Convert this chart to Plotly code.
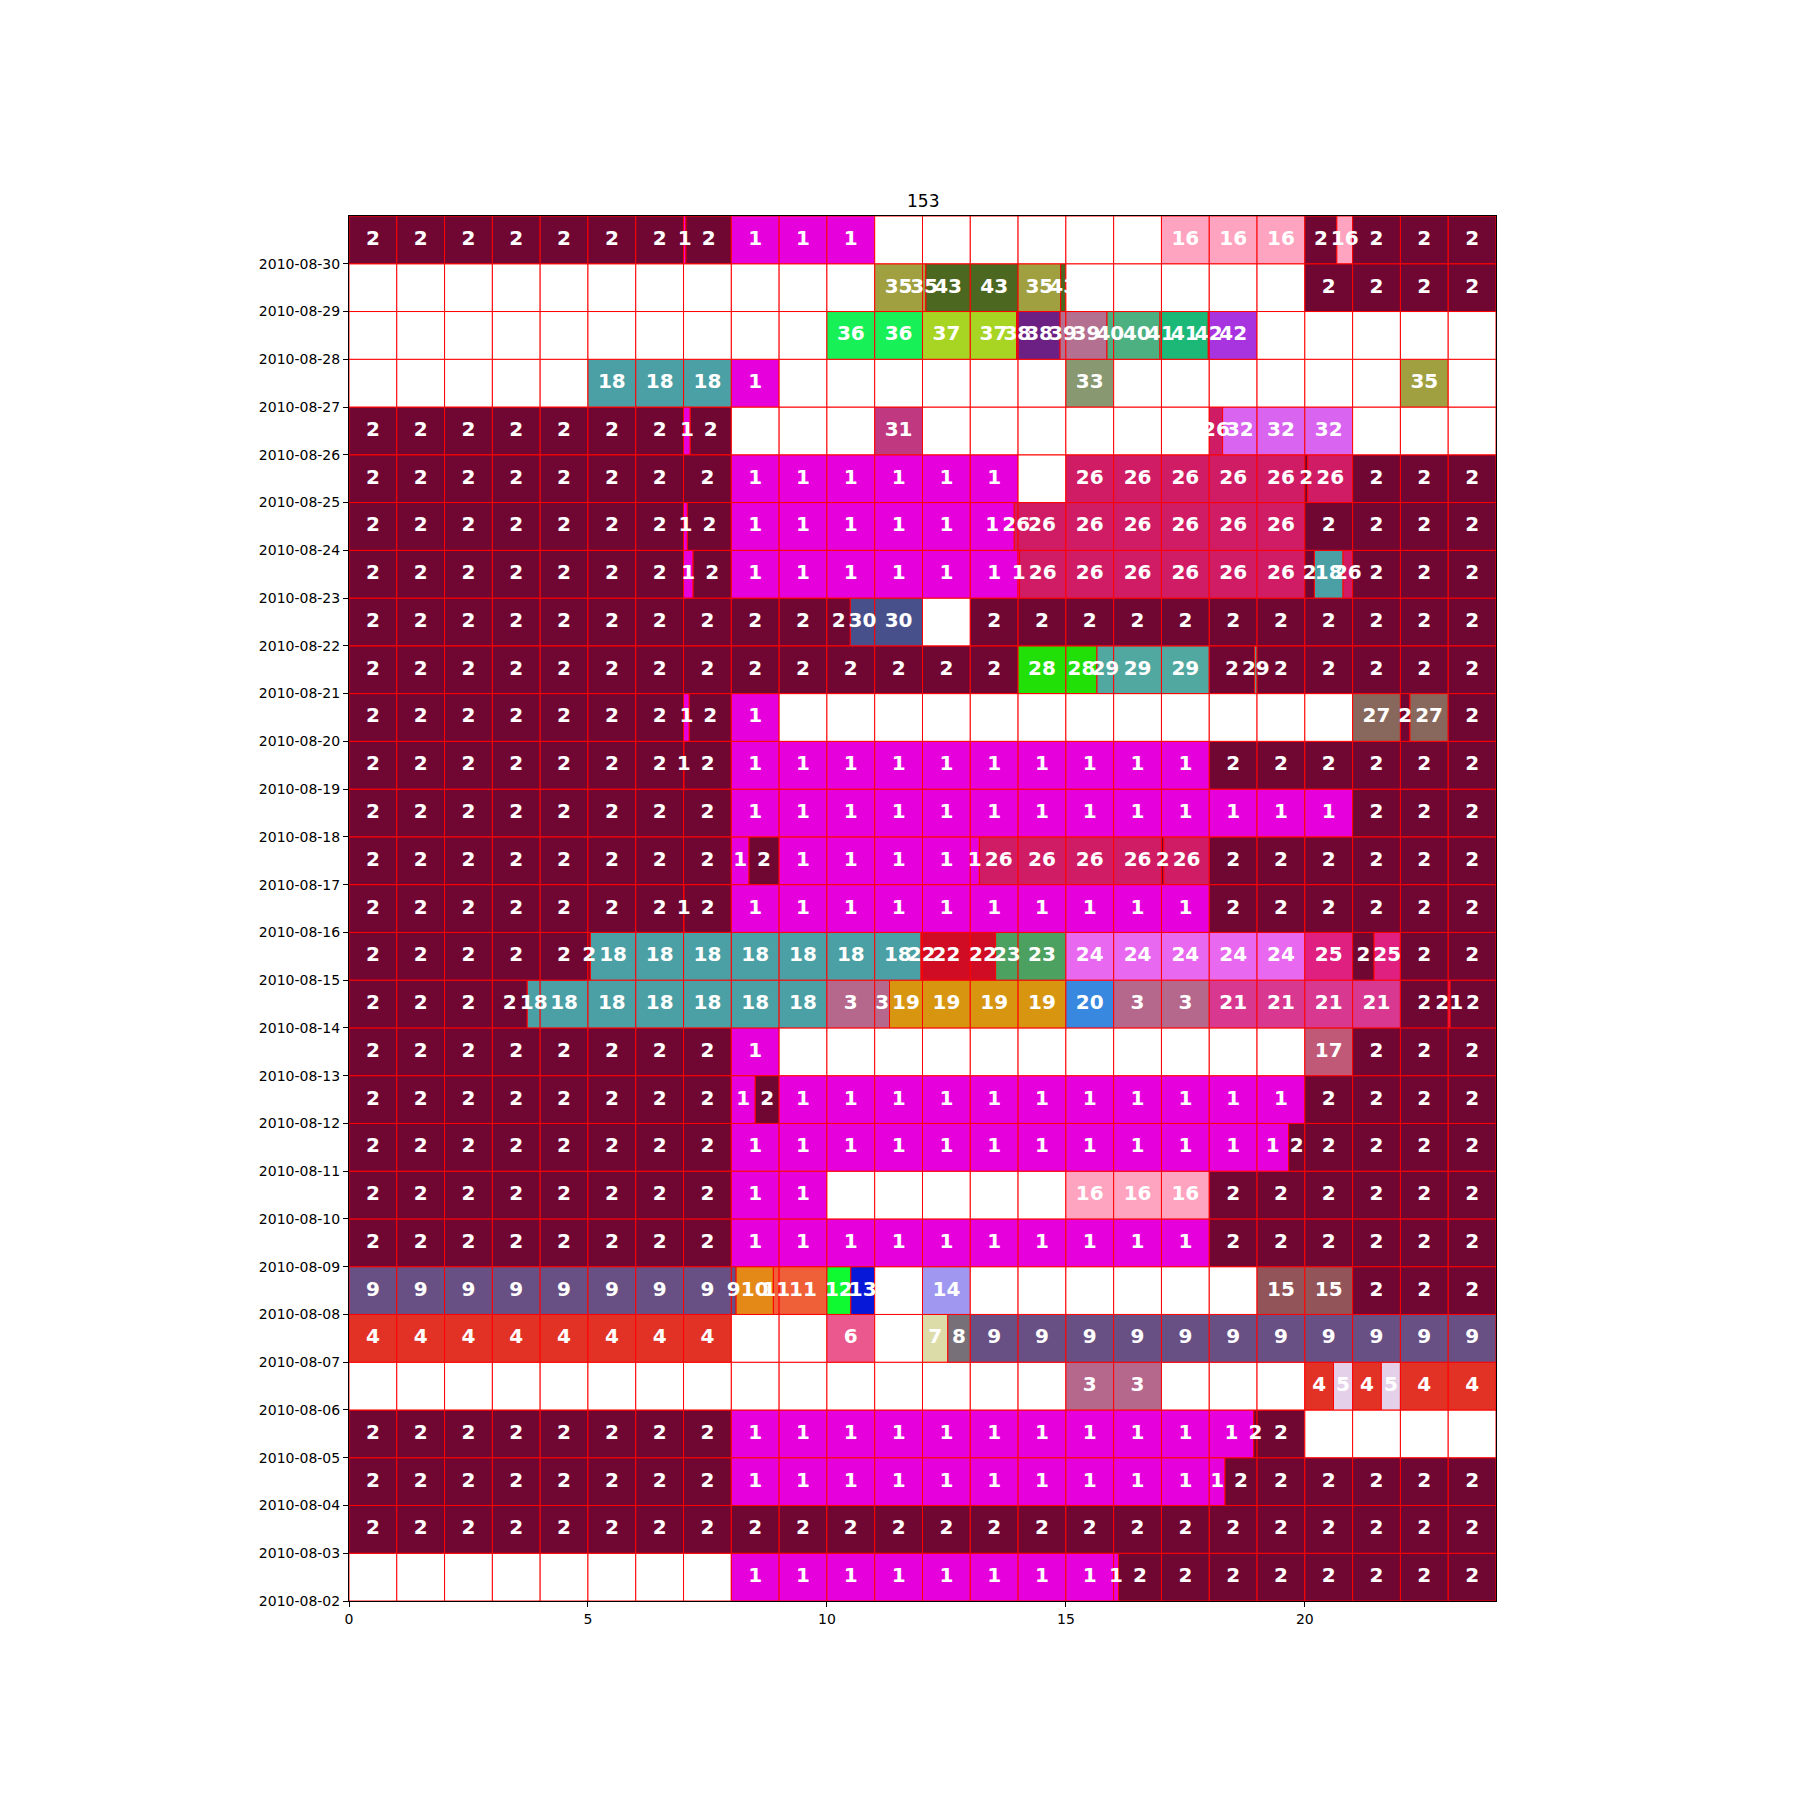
import math
import plotly.graph_objects as go

# Day rows (bottom to top) and activity segments: (start hour, end hour, activity id; 0 = empty)
dates = ["2010-08-%02d" % d for d in range(2, 31)]

aug02 = [(0, 8, 0), (8, 16.1, 1), (16.1, 24, 2)]
aug03 = [(0, 24, 2)]
aug04 = [(0, 8, 2), (8, 18.33, 1), (18.33, 24, 2)]
aug05 = [(0, 8, 2), (8, 18.93, 1), (18.93, 20, 2), (20, 24, 0)]
aug06 = [(0, 15, 0), (15, 17, 3), (17, 20, 0), (20, 20.6, 4), (20.6, 21, 5), (21, 21.6, 4), (21.6, 22, 5), (22, 24, 4)]
aug07 = [(0, 8, 4), (8, 10, 0), (10, 11, 6), (11, 12, 0), (12, 12.53, 7), (12.53, 13, 8), (13, 24, 9)]
aug08 = [(0, 8.1, 9), (8.1, 8.88, 10), (8.88, 10, 11), (10, 10.5, 12), (10.5, 11, 13), (11, 12, 0), (12, 13, 14), (13, 19, 0), (19, 21, 15), (21, 24, 2)]
aug09 = [(0, 8, 2), (8, 18, 1), (18, 24, 2)]
aug10 = [(0, 8, 2), (8, 10, 1), (10, 15, 0), (15, 18, 16), (18, 24, 2)]
aug11 = [(0, 8, 2), (8, 19.66, 1), (19.66, 24, 2)]
aug12 = [(0, 8, 2), (8, 8.5, 1), (8.5, 9, 2), (9, 20, 1), (20, 24, 2)]
aug13 = [(0, 8, 2), (8, 9, 1), (9, 20, 0), (20, 21, 17), (21, 24, 2)]
aug14 = [(0, 3.73, 2), (3.73, 10, 18), (10, 11.31, 3), (11.31, 15, 19), (15, 16, 20), (16, 18, 3), (18, 22, 21), (22, 23, 2), (23, 23.04, 21), (23.04, 24, 2)]
aug15 = [(0, 5.05, 2), (5.05, 11.97, 18), (11.97, 13.53, 22), (13.53, 15, 23), (15, 20, 24), (20, 21, 25), (21, 21.45, 2), (21.45, 22, 25), (22, 24, 2)]
aug16 = [(0, 7, 2), (7, 7.01, 1), (7.01, 8, 2), (8, 18, 1), (18, 24, 2)]
aug17 = [(0, 8, 2), (8, 8.37, 1), (8.37, 9, 2), (9, 13.19, 1), (13.19, 17, 26), (17, 17.05, 2), (17.05, 18, 26), (18, 24, 2)]
aug18 = [(0, 8, 2), (8, 21, 1), (21, 24, 2)]
aug19 = [(0, 7, 2), (7, 7.01, 1), (7.01, 8, 2), (8, 18, 1), (18, 24, 2)]
aug20 = [(0, 7, 2), (7, 7.12, 1), (7.12, 8, 2), (8, 9, 1), (9, 21, 0), (21, 22, 27), (22, 22.2, 2), (22.2, 23, 27), (23, 24, 2)]
aug21 = [(0, 14, 2), (14, 15.65, 28), (15.65, 18, 29), (18, 18.95, 2), (18.95, 19, 29), (19, 24, 2)]
aug22 = [(0, 10.49, 2), (10.49, 12, 30), (12, 13, 0), (13, 24, 2)]
aug23 = [(0, 7, 2), (7, 7.2, 1), (7.2, 8, 2), (8, 14.03, 1), (14.03, 20, 26), (20, 20.2, 2), (20.2, 20.8, 18), (20.8, 21, 26), (21, 24, 2)]
aug24 = [(0, 7, 2), (7, 7.08, 1), (7.08, 8, 2), (8, 13.92, 1), (13.92, 20, 26), (20, 24, 2)]
aug25 = [(0, 8, 2), (8, 14, 1), (14, 15, 0), (15, 20, 26), (20, 20.06, 2), (20.06, 21, 26), (21, 24, 2)]
aug26 = [(0, 7, 2), (7, 7.14, 1), (7.14, 8, 2), (8, 11, 0), (11, 12, 31), (12, 18, 0), (18, 18.28, 26), (18.28, 21, 32), (21, 24, 0)]
aug27 = [(0, 5, 0), (5, 8, 18), (8, 9, 1), (9, 15, 0), (15, 16, 33), (16, 22, 0), (22, 23, 35), (23, 24, 0)]
aug28 = [(0, 10, 0), (10, 12, 36), (12, 13.97, 37), (13.97, 14.88, 38), (14.88, 15.86, 39), (15.86, 16.97, 40), (16.97, 17.98, 41), (17.98, 19, 42), (19, 24, 0)]
aug29 = [(0, 11, 0), (11, 12.07, 35), (12.07, 14, 43), (14, 14.89, 35), (14.89, 15, 43), (15, 20, 0), (20, 24, 2)]
aug30 = [(0, 7, 2), (7, 7.05, 1), (7.05, 8, 2), (8, 11, 1), (11, 17, 0), (17, 20, 16), (20, 20.67, 2), (20.67, 21, 16), (21, 24, 2)]

day_segments = [aug02, aug03, aug04, aug05, aug06, aug07, aug08, aug09, aug10, aug11,
                aug12, aug13, aug14, aug15, aug16, aug17, aug18, aug19, aug20, aug21,
                aug22, aug23, aug24, aug25, aug26, aug27, aug28, aug29, aug30]

activity_colors = {
    0: "#ffffff", 1: "#e600dc", 2: "#700632", 3: "#b5688c", 4: "#e23226", 5: "#e4d0e8",
    6: "#ea588e", 7: "#dcdca8", 8: "#787078", 9: "#685084", 10: "#e48818", 11: "#f06038",
    12: "#10fa32", 13: "#0818d8", 14: "#a098f0", 15: "#925458", 16: "#ffa4c0", 17: "#c05878",
    18: "#4aa0a4", 19: "#d89610", 20: "#3888e0", 21: "#d83890", 22: "#d00c24", 23: "#4ca060",
    24: "#e868f0", 25: "#e02080", 26: "#d01c64", 27: "#88685c", 28: "#20e008", 29: "#50a8a0",
    30: "#48508c", 31: "#c03880", 32: "#d864f0", 33: "#889870", 35: "#a0a040", 36: "#18f058",
    37: "#a8d424", 38: "#6c2084", 39: "#b47090", 40: "#4cb080", 41: "#1cb878", 42: "#a834e0",
    43: "#4c6820",
}

# split segments at hour boundaries -> cells
bar_y, bar_base, bar_len, bar_col = [], [], [], []
txt_x, txt_y, txt_s = [], [], []
for i, segs in enumerate(day_segments):
    for (s, e, a) in segs:
        cur = s
        while e - cur > 1e-9:
            nxt = min(e, math.floor(cur + 1e-9) + 1)
            bar_y.append(i + 0.5)
            bar_base.append(cur)
            bar_len.append(nxt - cur)
            bar_col.append(activity_colors[a])
            if a != 0:
                txt_x.append((cur + nxt) / 2)
                txt_y.append(i + 0.5)
                txt_s.append(str(a))
            cur = nxt

fig = go.Figure()
fig.add_trace(go.Bar(
    y=bar_y, x=bar_len, base=bar_base, orientation="h", width=1,
    marker=dict(color=bar_col, line=dict(color="red", width=1)),
    hoverinfo="skip", showlegend=False,
))
fig.add_trace(go.Scatter(
    x=txt_x, y=txt_y, text=txt_s, mode="text", textposition="middle center",
    textfont=dict(family="DejaVu Sans", size=20, color="white", weight="bold"),
    hoverinfo="skip", showlegend=False, cliponaxis=False,
))

fig.update_layout(
    width=1800, height=1800,
    margin=dict(l=349, r=304, t=216, b=199),
    paper_bgcolor="white", plot_bgcolor="white",
    barmode="overlay",
    font=dict(family="DejaVu Sans", size=14, color="black"),
    xaxis=dict(range=[0, 24], tickvals=[0, 5, 10, 15, 20], ticks="outside", ticklen=5,
               tickcolor="black", showline=True, linecolor="black", linewidth=1, mirror=True,
               showgrid=False, zeroline=False, tickfont=dict(size=14)),
    yaxis=dict(range=[0, 29], tickvals=list(range(29)), ticktext=dates, ticks="outside",
               ticklen=5, tickcolor="black", showline=True, linecolor="black", linewidth=1,
               mirror=True, showgrid=False, zeroline=False, tickfont=dict(size=14)),
    annotations=[dict(text="153", x=0.5, y=1, xref="paper", yref="paper", xanchor="center",
                      yanchor="bottom", yshift=3, showarrow=False, font=dict(size=17, color="black"))],
)

fig.write_html("out.html")
